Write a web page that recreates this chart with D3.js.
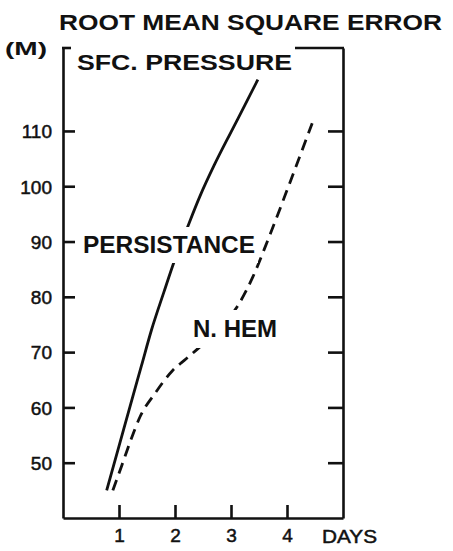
<!DOCTYPE html>
<html>
<head>
<meta charset="utf-8">
<script src="https://cdn.jsdelivr.net/npm/d3@7/dist/d3.min.js"></script>
<style>
  html, body { margin: 0; padding: 0; background: #fff; }
  svg { display: block; }
  text { font-family: "Liberation Sans", Arial, sans-serif; font-weight: bold; fill: #111; }
</style>
</head>
<body>
<svg id="chart" width="453" height="551"></svg>
<script>
// Root mean square error of surface pressure forecasts (m) versus forecast day
const persistDays = [0.78, 1.0, 1.2, 1.4, 1.58, 1.8, 2.0, 2.2, 2.45, 2.7, 3.0, 3.25, 3.48];
const persistRmse = [45, 53, 60.3, 67.5, 74, 80.8, 86.8, 92, 98.3, 103.8, 109.8, 114.7, 119.3];

const nhemDays = [0.89, 1.05, 1.2, 1.38, 1.64, 1.95, 2.2, 2.45, 2.8, 3.11, 3.39, 3.66, 4.05, 4.45];
const nhemRmse = [45, 49.5, 53.8, 58.4, 62.5, 66.6, 68.8, 71, 74.4, 78.2, 83.6, 90.3, 100.6, 111.4];

const yTicks = [50, 60, 70, 80, 90, 100, 110];
const xTicks = [1, 2, 3, 4];

const svg = d3.select("#chart");
const x = d3.scaleLinear().domain([0, 5]).range([63, 343]);
const y = d3.scaleLinear().domain([40, 125]).range([518, 48]);

const ink = "#111";

// Left axis with inward ticks and labels
const gL = svg.append("g").attr("transform", `translate(${x(0)},0)`)
  .call(d3.axisLeft(y).tickValues(yTicks).tickFormat(d3.format("d"))
    .tickSizeInner(-12).tickSizeOuter(0).tickPadding(11));
// Right axis, ticks only
const gR = svg.append("g").attr("transform", `translate(${x(5)},0)`)
  .call(d3.axisRight(y).tickValues(yTicks).tickSizeInner(-15).tickSizeOuter(0).tickFormat(""));
// Bottom axis
const gB = svg.append("g").attr("transform", `translate(0,${y(40)})`)
  .call(d3.axisBottom(x).tickValues(xTicks).tickFormat(d3.format("d"))
    .tickSizeInner(-13).tickSizeOuter(0).tickPadding(11));

[gL, gR, gB].forEach(g => {
  g.select(".domain").attr("stroke", ink).attr("stroke-width", 2.6);
  g.selectAll(".tick line").attr("stroke", ink).attr("stroke-width", 2.6);
  g.selectAll(".tick text").style("font-size", "19px").style("font-weight", "normal")
    .attr("fill", ink).attr("stroke", ink).attr("stroke-width", 0.5);
});
gL.selectAll(".tick text").attr("dy", "0.36em");

// Curves
const line = d3.line().x(d => x(d[0])).y(d => y(d[1])).curve(d3.curveMonotoneX);
svg.append("path")
  .datum(d3.zip(persistDays, persistRmse))
  .attr("d", line).attr("fill", "none").attr("stroke", ink).attr("stroke-width", 2.8);
svg.append("path")
  .datum(d3.zip(nhemDays, nhemRmse))
  .attr("d", line).attr("fill", "none").attr("stroke", ink).attr("stroke-width", 2.8)
  .attr("stroke-dasharray", "11,7");

// Labels set on the plot with a white knock-out behind them
function label(txt, px, py, size, len, padX, padY) {
  const g = svg.append("g");
  const r = g.append("rect").attr("fill", "#fff");
  const t = g.append("text").attr("x", px).attr("y", py)
    .style("font-size", size + "px").attr("textLength", len).attr("lengthAdjust", "spacingAndGlyphs")
    .text(txt);
  const b = t.node().getBBox();
  r.attr("x", b.x - padX).attr("y", b.y - padY + 2)
   .attr("width", b.width + 2 * padX).attr("height", b.height + 2 * padY - 4);
  return b;
}
label("PERSISTANCE", 83, 253, 23, 172, 3, 7);
label("N. HEM", 193, 337, 23, 84, 3, 8);

// Frame top edge, interrupted by the panel title
svg.append("text").attr("x", 77).attr("y", 70)
  .style("font-size", "22px").attr("textLength", 215).attr("lengthAdjust", "spacingAndGlyphs")
  .text("SFC. PRESSURE");
svg.append("line").attr("x1", x(0) - 1).attr("x2", x(0) + 8)
  .attr("y1", y(125)).attr("y2", y(125)).attr("stroke", ink).attr("stroke-width", 2.6);
svg.append("line").attr("x1", 295).attr("x2", x(5) + 1)
  .attr("y1", y(125)).attr("y2", y(125)).attr("stroke", ink).attr("stroke-width", 2.6);

// Titles and units
svg.append("text").attr("x", 59).attr("y", 30)
  .style("font-size", "22px").attr("textLength", 383).attr("lengthAdjust", "spacingAndGlyphs")
  .text("ROOT MEAN SQUARE ERROR");
svg.append("text").attr("x", 5).attr("y", 55)
  .style("font-size", "18px").attr("textLength", 42).attr("lengthAdjust", "spacingAndGlyphs")
  .text("(M)");
svg.append("text").attr("x", 322).attr("y", 543)
  .style("font-size", "19px").style("font-weight", "normal")
  .attr("stroke", ink).attr("stroke-width", 0.5)
  .attr("textLength", 55).attr("lengthAdjust", "spacingAndGlyphs")
  .text("DAYS");
</script>
</body>
</html>
